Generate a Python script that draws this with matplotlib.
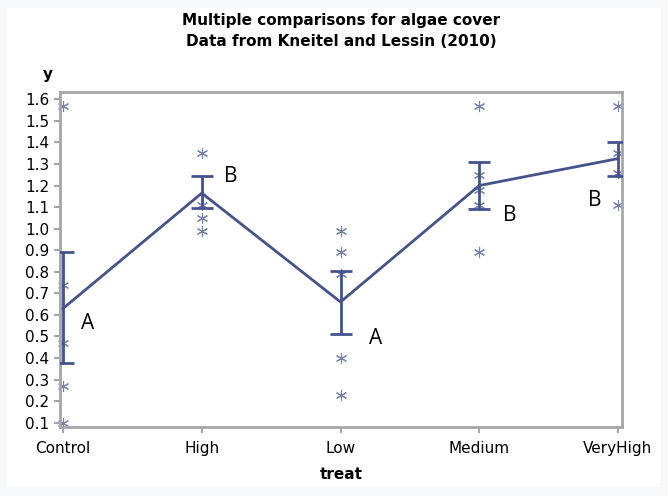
import numpy as np
import matplotlib.pyplot as plt
from matplotlib.patches import Rectangle

# data
treats = ["Control", "High", "Low", "Medium", "VeryHigh"]
obs = [
    [1.57, 0.74, 0.47, 0.27, 0.10],
    [1.35, 1.11, 1.05, 0.99],
    [0.99, 0.89, 0.79, 0.40, 0.23],
    [1.57, 1.25, 1.18, 1.11, 0.89],
    [1.57, 1.35, 1.26, 1.11],
]
means = [0.63, 1.165, 0.66, 1.20, 1.325]
lower = [0.375, 1.095, 0.51, 1.09, 1.245]
upper = [0.89, 1.245, 0.805, 1.31, 1.40]
letters = ["A", "B", "A", "B", "B"]
letter_x = [0.18, 1.21, 2.25, 3.22, 3.83]
letter_y = [0.56, 1.24, 0.49, 1.06, 1.13]

line_col = "#44538c"
star_col = "#7380b0"
frame_col = "#a6a6a6"

fig = plt.figure(figsize=(6.68, 4.96), dpi=100)
fig.patch.set_facecolor("#f6f8fc")
fig.patches.append(Rectangle((7 / 668, 9 / 496), 654 / 668, 479 / 496,
                             transform=fig.transFigure, facecolor="white",
                             edgecolor="none", zorder=-10))

ax = fig.add_axes([60 / 668, 1 - 427 / 496, 562 / 668, 335 / 496])
ax.set_zorder(1)
x = np.arange(len(treats))

# raw observations
for i, vals in enumerate(obs):
    ax.plot([x[i]] * len(vals), vals, linestyle="none", marker=(6, 2, 0),
            markersize=8, markeredgewidth=0.8, color=star_col, zorder=2,
            clip_on=False)

# means and intervals
ax.plot(x, means, color=line_col, linewidth=2, zorder=3)
err = [np.array(means) - np.array(lower), np.array(upper) - np.array(means)]
ax.errorbar(x, means, yerr=err, fmt="none", ecolor=line_col, elinewidth=2,
            capsize=8, capthick=2, zorder=3)

for lx, ly, t in zip(letter_x, letter_y, letters):
    ax.text(lx, ly, t, fontsize=15, family="Open Sans", color="black",
            ha="center", va="center")

ax.set_xlim(-0.022, 4.029)
ax.set_ylim(0.08, 1.634)
ax.set_xticks(x)
ax.set_xticklabels(treats)
ax.set_yticks(np.round(np.arange(0.1, 1.61, 0.1), 1))
ax.set_yticklabels([f"{v:.1f}" for v in np.arange(0.1, 1.61, 0.1)])
ax.tick_params(labelsize=11, color=frame_col, length=4, width=1.5)
ax.tick_params(axis="x", pad=6)
for s in ax.spines.values():
    s.set_color(frame_col)
    s.set_linewidth(2)

ax.set_xlabel("treat", fontsize=11, fontweight="bold", labelpad=8)
fig.text(48 / 668, 1 - 75 / 496, "y", fontsize=11, fontweight="bold",
         ha="center", va="center")
fig.text(341 / 668, 1 - 20 / 496, "Multiple comparisons for algae cover",
         fontsize=11, fontweight="bold", ha="center", va="center")
fig.text(341 / 668, 1 - 42 / 496, "Data from Kneitel and Lessin (2010)",
         fontsize=11, fontweight="bold", ha="center", va="center")

fig.savefig("out.png", dpi=100, facecolor=fig.get_facecolor())
